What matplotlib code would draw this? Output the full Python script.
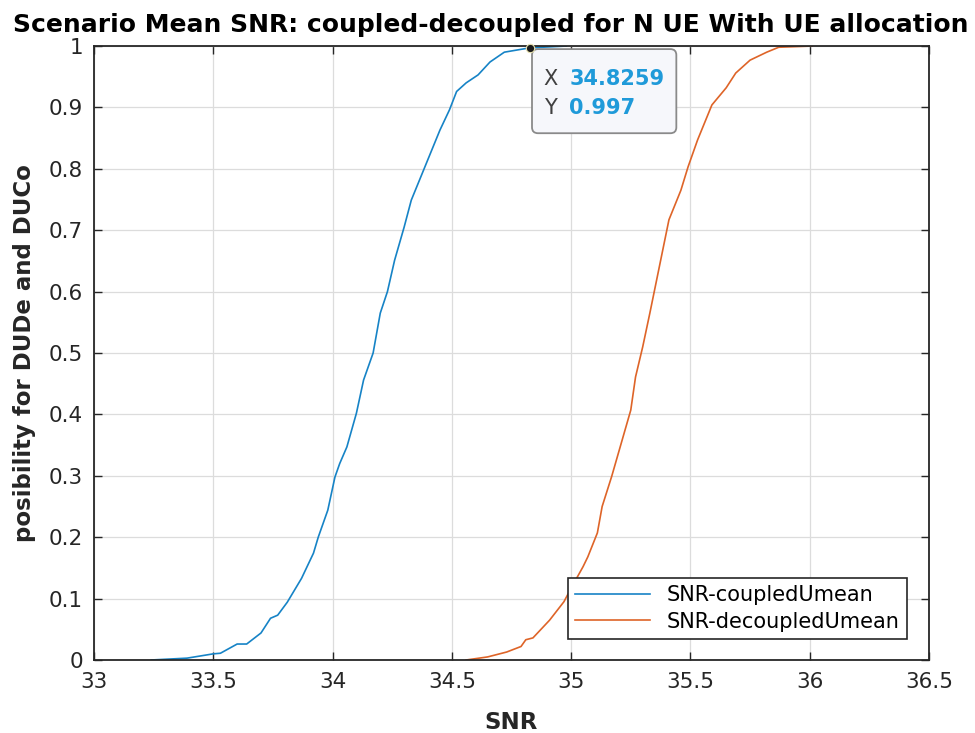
import numpy as np
import matplotlib
matplotlib.use('Agg')
import matplotlib.pyplot as plt
from matplotlib.patches import FancyBboxPatch

plt.rcParams['font.family'] = ['DejaVu Sans']

snr_coupled = [33.24, 33.39, 33.50, 33.53, 33.60, 33.64, 33.70, 33.74, 33.77, 33.81,
               33.87, 33.92, 33.94, 33.98, 34.01, 34.03, 34.06, 34.10, 34.13, 34.17,
               34.20, 34.23, 34.26, 34.30, 34.33, 34.37, 34.41, 34.45, 34.49, 34.52,
               34.56, 34.61, 34.66, 34.72, 34.8259, 34.98]
p_coupled = [0.0, 0.003, 0.010, 0.011, 0.026, 0.026, 0.044, 0.068, 0.073, 0.094,
             0.133, 0.174, 0.200, 0.244, 0.298, 0.320, 0.347, 0.402, 0.456, 0.500,
             0.565, 0.600, 0.651, 0.705, 0.749, 0.787, 0.825, 0.863, 0.896, 0.926,
             0.940, 0.953, 0.974, 0.990, 0.997, 1.0]

snr_decoupled = [34.56, 34.65, 34.73, 34.79, 34.81, 34.84, 34.91, 34.97, 35.00, 35.05,
                 35.07, 35.11, 35.13, 35.17, 35.21, 35.25, 35.27, 35.30, 35.33, 35.39,
                 35.41, 35.46, 35.49, 35.53, 35.57, 35.59, 35.65, 35.69, 35.75, 35.82,
                 35.87, 36.01]
p_decoupled = [0.0, 0.005, 0.013, 0.022, 0.033, 0.036, 0.065, 0.095, 0.117, 0.152,
               0.168, 0.207, 0.250, 0.299, 0.353, 0.407, 0.461, 0.510, 0.565, 0.679,
               0.717, 0.765, 0.803, 0.847, 0.885, 0.904, 0.932, 0.956, 0.977, 0.990,
               0.998, 1.0]

labels = ['SNR-coupledUmean', 'SNR-decoupledUmean']
tip_x = 34.8259
tip_y = 0.997

xticks = [33, 33.5, 34, 34.5, 35, 35.5, 36, 36.5]
yticks = [0, 0.1, 0.2, 0.3, 0.4, 0.5, 0.6, 0.7, 0.8, 0.9, 1]

dark = '#262626'

fig = plt.figure(figsize=(9.75, 7.33), dpi=100)
ax = fig.add_axes([0.0964, 0.0996, 0.8564, 0.8376])

ax.plot(snr_coupled, p_coupled, color='#1683c6', lw=1.2, label=labels[0])
ax.plot(snr_decoupled, p_decoupled, color='#de6428', lw=1.2, label=labels[1])

ax.set_xlim(33, 36.5)
ax.set_ylim(0, 1)
ax.set_xticks(xticks)
ax.set_xticklabels(['33', '33.5', '34', '34.5', '35', '35.5', '36', '36.5'])
ax.set_yticks(yticks)
ax.set_yticklabels(['0', '0.1', '0.2', '0.3', '0.4', '0.5', '0.6', '0.7', '0.8', '0.9', '1'])
ax.tick_params(direction='in', length=6, width=1, colors=dark, labelsize=15.5,
               top=True, right=True)
ax.tick_params(axis='x', pad=9)
ax.tick_params(axis='y', pad=8)
for s in ax.spines.values():
    s.set_color(dark)
    s.set_linewidth(1.3)
ax.grid(True, color='#dcdcdc', lw=0.9)
ax.set_axisbelow(True)

ax.set_title('Scenario Mean SNR: coupled-decoupled for N UE With UE allocation',
             fontsize=18, fontweight='bold', x=0.4754, pad=10)
ax.set_xlabel('SNR', fontsize=16.5, fontweight='bold', color=dark, labelpad=13)
ax.set_ylabel('posibility for DUDe and DUCo', fontsize=16.5, fontweight='bold', color=dark,
              labelpad=9)

leg = ax.legend(loc='lower right', bbox_to_anchor=(0.9737, 0.0342), borderaxespad=0,
                fontsize=15, fancybox=False, edgecolor=dark, framealpha=1,
                handlelength=3.6, labelspacing=0.3, borderpad=0.35)
leg.get_frame().set_linewidth(1.2)

# data tip
ax.plot([tip_x], [tip_y], 'o', ms=6, mfc='#1a1a1a', mec='#e8e2b0', mew=0.8,
        clip_on=False, zorder=5)
box = FancyBboxPatch((34.836, 0.858), 0.605, 0.137,
                     boxstyle='round,pad=0,rounding_size=0.025', mutation_aspect=0.3886,
                     fc='#f6f7fb', ec='#8a8a8a', lw=1.3, zorder=4)
ax.add_patch(box)
ax.text(34.885, 0.947, 'X', fontsize=15, color='#404040', va='center', ha='left', zorder=6)
ax.text(34.885, 0.899, 'Y', fontsize=15, color='#404040', va='center', ha='left', zorder=6)
ax.text(34.993, 0.947, '%.4f' % tip_x, fontsize=15, fontweight='bold', color='#1f9ad9',
        va='center', ha='left', zorder=6)
ax.text(34.993, 0.899, '%.3f' % tip_y, fontsize=15, fontweight='bold', color='#1f9ad9',
        va='center', ha='left', zorder=6)

plt.savefig('out.png', dpi=100)
